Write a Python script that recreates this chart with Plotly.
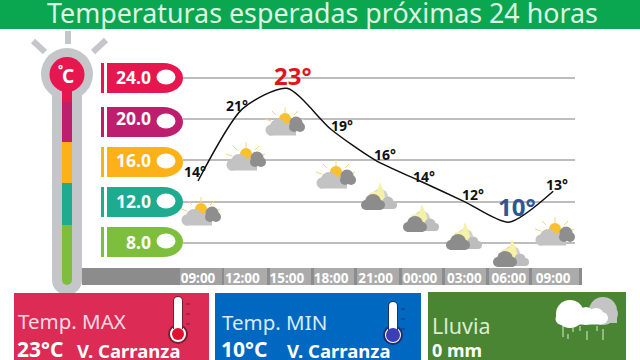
import plotly.graph_objects as go

W, H = 640, 360

# ---------- data ----------
hours = ["09:00", "12:00", "15:00", "18:00", "21:00", "00:00", "03:00", "06:00", "09:00"]
temps = [14, 21, 23, 19, 16, 14, 12, 10, 13]
scale_vals = [24, 20, 16, 12, 8]
scale_text = ["24.0", "20.0", "16.0", "12.0", "8.0"]
scale_cols = ["#E6164F", "#BE1E6E", "#FBB117", "#1FAB8F", "#7DBE3C"]
icons = ["sun", "sun", "sun", "sun", "bolt", "bolt", "bolt", "bolt", "sun"]

FONT = "Noto Sans"


def X(p):
    return p / W


def Y(p):
    return 1 - p / H


shapes = []
annos = []


def rect(x0, y0, x1, y1, col, layer="below"):
    shapes.append(dict(type="rect", xref="paper", yref="paper", x0=X(x0), x1=X(x1), y0=Y(y0), y1=Y(y1),
                       fillcolor=col, line_width=0, layer=layer))


def circ(cx, cy, rx, col, ry=None, layer="below", lc=None, lw=0):
    ry = rx if ry is None else ry
    shapes.append(dict(type="circle", xref="paper", yref="paper", x0=X(cx - rx), x1=X(cx + rx),
                       y0=Y(cy + ry), y1=Y(cy - ry), fillcolor=col,
                       line=dict(color=lc or col, width=lw), layer=layer))


def seg(x0, y0, x1, y1, col, w, layer="below"):
    shapes.append(dict(type="line", xref="paper", yref="paper", x0=X(x0), x1=X(x1), y0=Y(y0), y1=Y(y1),
                       line=dict(color=col, width=w), layer=layer))


def path(pts, col, layer="below"):
    d = ""
    for p in pts:
        d += p[0] + " ".join(f"{X(p[i]):.5f},{Y(p[i + 1]):.5f}" for i in range(1, len(p), 2))
    shapes.append(dict(type="path", xref="paper", yref="paper", path=d + "Z", fillcolor=col, line_width=0, layer=layer))


def text(x, y, s, size, col, bold=False, anchor="left"):
    annos.append(dict(xref="paper", yref="paper", x=X(x), y=Y(y), text=f"<b>{s}</b>" if bold else s,
                      showarrow=False, xanchor=anchor, yanchor="middle",
                      font=dict(family=FONT, size=size, color=col), borderpad=0))


# ---------- header ----------
rect(0, 0, 640, 29, "#0BA650")
text(322, 13, "Temperaturas esperadas próximas 24 horas", 26.8, "#DDF5E4", anchor="center")

# ---------- thermometer ----------
GR = "#C4C6C9"
seg(33, 41, 45, 52, GR, 6)
seg(68, 31, 68, 44, GR, 6)
seg(106, 40, 93, 52, GR, 6)
circ(67, 74, 26, GR)
rect(52, 74, 82, 280, GR)
circ(67, 280, 15, GR)
rect(62, 74, 72, 102, "#E6164F")
rect(62, 102, 72, 142, "#BE1E6E")
rect(62, 142, 72, 183, "#FBB117")
rect(62, 183, 72, 225, "#1FAB8F")
rect(62, 225, 72, 280, "#7DBE3C")
circ(67, 280, 5, "#7DBE3C")
circ(67, 74.5, 17.5, "#E6164F")
text(68, 76, "C", 19, "#FFFFFF", True, "center")
text(60, 69, "°", 12, "#FFFFFF", True, "center")

# ---------- time band ----------
rect(82, 268, 582, 285, "#8C8C8C")
for a, b in [(222, 268), (268, 312), (312, 355), (355, 400), (400, 443), (443, 487), (487, 530), (530, 580)]:
    rect(a + 2, 268, b - 1, 285, "#ABABAB")
rect(180, 268, 222, 285, "#A2A2A2")

# ---------- scale pills ----------
pill_tops = [63, 107, 147, 187, 227]
for top, col in zip(pill_tops, scale_cols):
    bot = top + 30
    mid = top + 15
    rect(101, top, 104, bot, col)
    path([("M", 107, top), ("L", 163, top), ("C", 175, top, 183, mid - 8, 183, mid),
          ("C", 183, mid + 8, 175, bot, 163, bot), ("L", 107, bot)], col)
    circ(166, mid - 1, 9.5, "#FFFFFF", ry=7.5)


# ---------- weather icons ----------
def sun_icon(x, y):
    for (a, b, c, d) in [(20, 1, 20, -5), (11, 3, 7, -1), (29, 3, 33, -1), (6, 9, 0, 7), (34, 9, 39, 7)]:
        seg(x + a, y + b + 5, x + c, y + d + 5, "#F6D57A", 1, "above")
    circ(x + 20, y + 12, 6, "#F9C02F", layer="above")
    circ(x + 13, y + 20, 8, "#C3C3C3", layer="above")
    circ(x + 6, y + 23, 5.5, "#C3C3C3", layer="above")
    circ(x + 24, y + 22, 6, "#C3C3C3", layer="above")
    rect(x + 4, y + 22, x + 31, y + 28.5, "#C3C3C3", "above")
    circ(x + 31, y + 16, 6.5, "#8E8E8E", layer="above")
    circ(x + 35, y + 20, 5, "#8E8E8E", layer="above")
    circ(x + 29, y + 20, 5, "#8E8E8E", layer="above")


def bolt_icon(x, y):
    circ(x + 20, y + 14, 8, "#D0D0D0", layer="above")
    path([("M", x + 20, y - 1), ("L", x + 24, y + 9), ("L", x + 26, y + 19), ("L", x + 14, y + 16),
          ("L", x + 9, y + 10), ("L", x + 17, y + 8)], "#F5F2A8", "above")
    circ(x + 28, y + 19, 5.5, "#BDBDBD", layer="above")
    circ(x + 33, y + 22, 4, "#BDBDBD", layer="above")
    rect(x + 22, y + 22, x + 34, y + 26, "#BDBDBD", "above")
    circ(x + 13, y + 19, 8, "#8C8C8C", layer="above")
    circ(x + 6, y + 22, 5, "#8C8C8C", layer="above")
    circ(x + 20, y + 22, 5, "#8C8C8C", layer="above")
    rect(x + 5, y + 22, x + 21, y + 27, "#8C8C8C", "above")


icon_xy = [(181, 197), (226, 142), (265, 107), (316, 160), (360, 183), (402, 205), (445, 223), (492, 240), (535, 217)]
for kind, (ix, iy) in zip(icons, icon_xy):
    (sun_icon if kind == "sun" else bolt_icon)(ix, iy)

# ---------- bottom cards ----------
rect(14, 293, 209, 360, "#DC2B54")
rect(215, 293, 421, 360, "#0068C0")
rect(428, 292, 626, 360, "#4A8533")
text(17, 321, "Temp. MAX", 20.5, "#F7DCE3")
text(16, 349, "23°C", 21, "#FFFFFF", True)
text(76, 350, "V. Carranza", 18.5, "#FFFFFF", True)
text(221, 322, "Temp. MIN", 20.5, "#D8EBF8")
text(220, 349, "10°C", 21, "#FFFFFF", True)
text(286, 350, "V. Carranza", 18.5, "#FFFFFF", True)
text(431, 325, "Lluvia", 21.5, "#DDEDD3")
text(431, 350, "0 mm", 18, "#FFFFFF", True)


def therm(cx, top, by, fill, dark, r, layer="above"):
    circ(cx, by, 9, "#FFFFFF", layer=layer, lc=dark, lw=2)
    rect(cx - 5, top + 5, cx + 5, by - 5, dark, layer)
    circ(cx, top + 5, 5, dark, layer=layer)
    rect(cx - 4, top + 5, cx + 4, by, "#FFFFFF", layer)
    circ(cx, top + 5, 4, "#FFFFFF", layer=layer)
    circ(cx, by, r, fill, layer=layer)
    for t in (3, 13, 23):
        seg(cx + 8, top + t + 5, cx + 12, top + t + 5, dark, 1, layer)


therm(178, 296, 334, "#E0102F", "#7A1E30", 6)
therm(393, 301, 335, "#3D3DB8", "#1D2F6F", 7)

# rain cloud
circ(603, 311, 14, "#C4C4C4", layer="above")
circ(609, 314, 9, "#C4C4C4", layer="above")
rect(590, 312, 617, 323, "#C4C4C4", "above")
circ(570, 314, 14, "#FFFFFF", layer="above")
circ(586, 316, 9, "#FFFFFF", layer="above")
circ(596, 316, 8, "#FFFFFF", layer="above")
circ(602, 318, 6, "#FFFFFF", layer="above")
circ(561, 319, 5.5, "#FFFFFF", layer="above")
rect(560, 316, 602, 324.5, "#FFFFFF", "above")
for (a, b, c) in [(563, 326, 337), (568, 334, 339), (573, 326, 332), (580, 326, 331), (587, 331, 340), (597, 326, 331), (603, 329, 340)]:
    seg(a, b, a, c, "#DDEBD2", 1, "above")

# ---------- chart ----------
PX_STEP = 44.4
PX_FIRST = 198
PLOT_L, PLOT_R, PLOT_T, PLOT_B = 183, 575, 60, 268
PX_PER_DEG = 10.3
x_idx = list(range(len(hours)))
x_range = [(PLOT_L - PX_FIRST) / PX_STEP, (PLOT_R - PX_FIRST) / PX_STEP]
y_range = [24 - (PLOT_B - 78) / PX_PER_DEG, 24 + (78 - PLOT_T) / PX_PER_DEG]

label_off = [(-3, 10), (-5, 3), (6, 13), (11, 4), (9, 6), (4, 5), (9, 7), (8, 16), (4, 7)]
for i, (t, (dx, dy)) in enumerate(zip(temps, label_off)):
    big = t == max(temps) or t == min(temps)
    col = "#E0141C" if t == max(temps) else ("#2F5597" if t == min(temps) else "#111111")
    annos.append(dict(xref="x", yref="y", x=x_idx[i], y=t, text=f"<b>{t}°</b>", showarrow=False,
                      xshift=dx, yshift=dy, font=dict(family=FONT, size=24 if big else 14, color=col)))

fig = go.Figure(go.Scatter(x=x_idx, y=temps, mode="lines",
                           line=dict(color="#111111", width=1.5, shape="spline", smoothing=0.7),
                           hoverinfo="skip"))
fig.update_layout(
    width=W, height=H, margin=dict(l=0, r=0, t=0, b=0, autoexpand=False), showlegend=False,
    paper_bgcolor="#FFFFFF", plot_bgcolor="rgba(0,0,0,0)",
    shapes=shapes, annotations=annos,
    xaxis=dict(domain=[X(PLOT_L), X(PLOT_R)], range=x_range, tickvals=x_idx, ticktext=hours, automargin=False,
               showgrid=False, zeroline=False, showline=False, ticks="", ticklabeloverflow="allow",
               tickfont=dict(family=FONT, size=13.5, color="#FFFFFF", weight="bold"), tickangle=0),
    yaxis=dict(domain=[Y(PLOT_B), Y(PLOT_T)], range=y_range, tickvals=scale_vals, ticktext=scale_text, automargin=False,
               showgrid=True, gridcolor="#BDBDBD", gridwidth=1.5, zeroline=False, showline=False, ticks="",
               ticklabelstandoff=31,
               tickfont=dict(family=FONT, size=17.5, color="#FFFFFF", weight="bold")),
)
fig.write_html("out.html", config=dict(displayModeBar=False),
               post_script="document.body.style.margin='0';document.body.style.overflow='hidden';")
